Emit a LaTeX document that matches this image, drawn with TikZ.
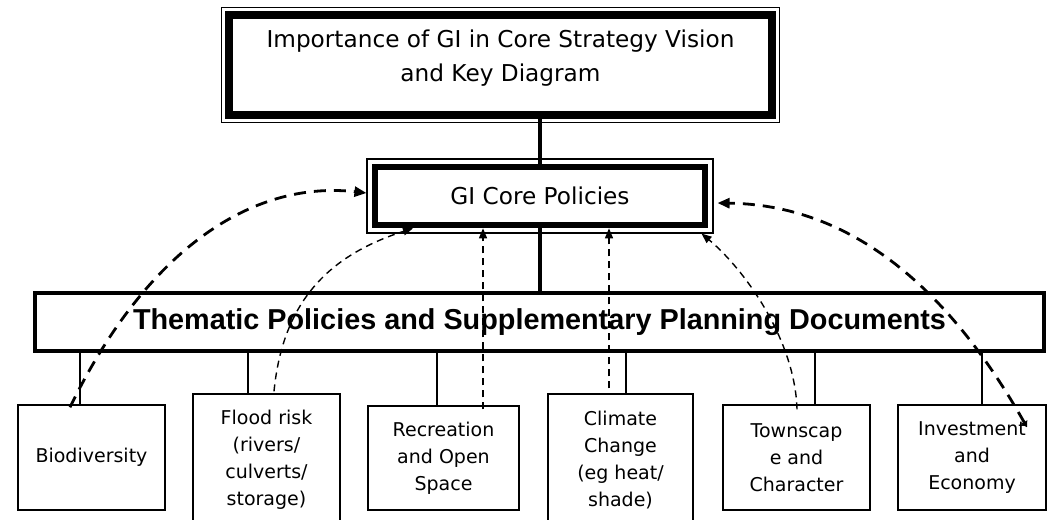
\documentclass[tikz,border=0pt]{standalone}
\usepackage{fontspec}
\setmainfont{DejaVu Sans}
\newfontfamily\boldsans{Liberation Sans}
\usetikzlibrary{calc,fit,arrows.meta}

\tikzset{
    heavybox/.style = {draw, line width = #1, fill = white, align = center, inner sep = 0pt},
    framebox/.style = {draw, line width = 0.65pt, inner sep = #1},
    topicbox/.style = {draw, line width = 0.7pt, fill = white, align = center, inner sep = 0pt,
        font = \fontsize{9.5}{13.5}\selectfont},
    trunk/.style = {line width = 2.2pt},
    twig/.style = {line width = 0.7pt},
    boldflow/.style = {line width = 1.4pt, dash pattern = on 6pt off 4pt,
        -{Triangle[length = 6pt, width = 5pt]}},
    thinflow/.style = {line width = 0.7pt, dash pattern = on 3.5pt off 2.5pt,
        -{Triangle[length = 5pt, width = 4pt]}}
}

\begin{document}
\begin{tikzpicture}[x = 0.5pt, y = -0.5pt]
    \useasboundingbox (0,0) rectangle (1053,519);
    \clip (0,0) rectangle (1053,519);
    \node[heavybox = 4pt, minimum width = 271.5pt, minimum height = 50pt, text depth = 9.8pt,
        font = \fontsize{11.6}{17}\selectfont] (vision) at (500.5,65)
        {Importance of GI in Core Strategy Vision\\and Key Diagram};
    \node[framebox = 1.7pt, fit = (vision)] (visionframe) {};
    \node[heavybox = 3.3pt, minimum width = 165pt, minimum height = 29pt,
        font = \fontsize{11.6}{14}\selectfont] (core) at (540,196) {GI Core Policies};
    \node[framebox = 2.3pt, fit = (core)] (coreframe) {};
    \node[heavybox = 1.8pt, minimum width = 504.5pt, minimum height = 29pt,
        font = \fontsize{14.4}{17}\boldsans\bfseries] (thematic) at (539.5,322)
        {Thematic Policies and Supplementary Planning Documents};
    \draw[trunk] (vision.south -| core.north) -- (core.north)
    (core.south) -- (core.south |- thematic.north);
    \node[topicbox, minimum width = 73.5pt, minimum height = 52.5pt] (bio) at (91.5,457.5) {Biodiversity};
    \node[topicbox, minimum width = 73.5pt, minimum height = 66pt] (flood) at (266.5,460) {Flood risk\\(rivers/\\culverts/\\storage)};
    \node[topicbox, minimum width = 75.5pt, minimum height = 52pt] (recreation) at (443.5,458) {Recreation\\and Open\\Space};
    \node[topicbox, minimum width = 72.5pt, minimum height = 66pt] (climate) at (620.5,460) {Climate\\Change\\(eg heat/\\shade)};
    \node[topicbox, minimum width = 73.5pt, minimum height = 52.5pt] (townscape) at (796.5,457.5) {Townscap\\e and\\Character};
    \node[topicbox, minimum width = 74pt, minimum height = 52.5pt] (invest) at (972,457.5) {Investment\\and\\Economy};
    \foreach \topic/\dx in {bio/-11.5, flood/-18.5, recreation/-6.5, climate/5.5, townscape/18.5, invest/10}
        \draw[twig] let \p1 = ($(\topic.north)+(\dx,0)$), \p2 = (thematic.south) in (\p1) -- (\x1,\y2);
    \draw[boldflow] ($(bio.north)+(-21.5,3)$) .. controls (146,251) and (251,180) .. ($(coreframe.west)+(0,-3)$);
    \draw[thinflow] ($(flood.north)+(7.5,-2)$) .. controls (283,300) and (330,255) .. ($(core.south)+(-127,0)$);
    \draw[thinflow] ($(recreation.north)+(39.5,4)$) -- ($(core.south)+(-57,0)$);
    \draw[thinflow] ($(climate.north)+(-11.5,-5)$) -- ($(core.south)+(69,0)$);
    \draw[thinflow] ($(townscape.north)+(0.5,5)$) .. controls (795,340) and (745,270) .. ($(coreframe.south east)+(-12,0)$);
    \draw[boldflow, {Triangle[length = 3pt, width = 3.5pt]}-{Triangle[length = 6pt, width = 5pt]}] ($(invest.north)+(55,23)$) .. controls (955,300) and (860,205) .. ($(coreframe.east)+(4,7)$);
\end{tikzpicture}
\end{document}
